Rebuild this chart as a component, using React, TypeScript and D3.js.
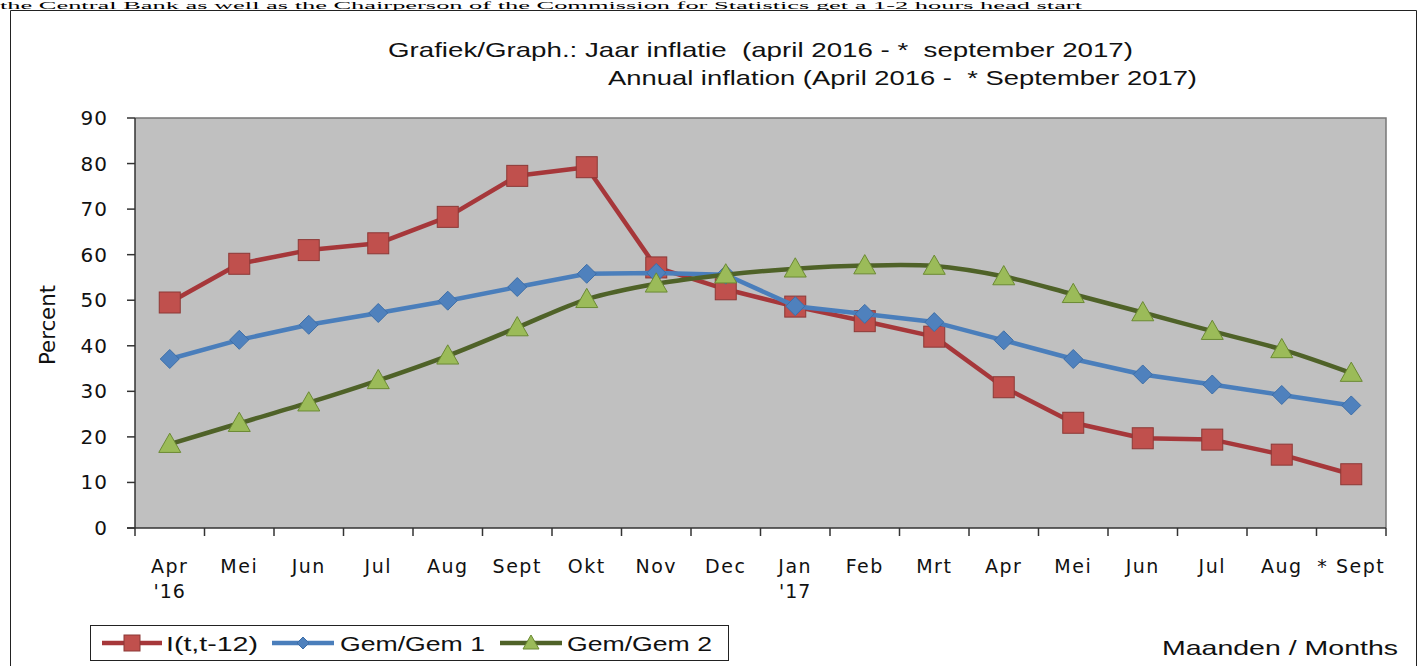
import * as d3 from 'd3';

const months = ['Apr', 'Mei', 'Jun', 'Jul', 'Aug', 'Sept', 'Okt', 'Nov', 'Dec', 'Jan', 'Feb', 'Mrt', 'Apr', 'Mei', 'Jun', 'Jul', 'Aug', '* Sept'];
const yearLabels = ["'16", '', '', '', '', '', '', '', '', "'17", '', '', '', '', '', '', '', ''];
const inflation = [49.5, 58, 61, 62.5, 68.3, 77.3, 79.2, 57.2, 52.4, 48.6, 45.4, 42, 30.9, 23.1, 19.7, 19.4, 16.1, 11.8];
const gem1 = [37.1, 41.3, 44.6, 47.2, 49.9, 52.9, 55.8, 56, 55.6, 48.7, 47, 45.2, 41.2, 37.1, 33.7, 31.5, 29.2, 26.9];
const gem2 = [18.4, 23, 27.5, 32.4, 37.8, 44, 50.2, 53.6, 55.6, 56.9, 57.6, 57.5, 55.2, 51.3, 47.3, 43.2, 39.2, 34];
const yTicks = [0, 10, 20, 30, 40, 50, 60, 70, 80, 90];

const W = 1418, H = 666;
const m = { left: 135, right: 1386, top: 118, bottom: 528 };

const RED = { line: '#a6373a', fill: '#c0504d', stroke: '#8c3836' };
const BLUE = { line: '#4a7ebb', fill: '#4f81bd', stroke: '#3d6ea8' };
const GREEN = { line: '#4f6228', fill: '#9bbb59', stroke: '#6b8a33' };

export default function App() {
    const x = d3.scaleBand<number>().domain(d3.range(months.length)).range([m.left, m.right]);
    const cx = (i: number) => x(i)! + x.bandwidth() / 2;
    const y = d3.scaleLinear().domain([0, 90]).range([m.bottom, m.top]);

    const straight = d3.line<number>().x((_, i) => cx(i)).y(d => y(d));
    // the second average is drawn as a smoothed line in the original
    const smooth = d3.line<number>().x((_, i) => cx(i)).y(d => y(d)).curve(d3.curveCatmullRom.alpha(0.5));

    const square = (px: number, py: number, s = 10, c = RED, k?: string) => (
        <rect key={k} x={px - s} y={py - s} width={s * 2} height={s * 2} fill={c.fill} stroke={c.stroke} strokeWidth={1} />
    );
    const diamond = (px: number, py: number, s = 9, c = BLUE, k?: string) => (
        <path key={k} d={`M${px},${py - s}L${px + s},${py}L${px},${py + s}L${px - s},${py}Z`} fill={c.fill} stroke={c.stroke} strokeWidth={1} />
    );
    const triangle = (px: number, py: number, s = 10, c = GREEN, k?: string) => (
        <path key={k} d={`M${px},${py - s}L${px + s},${py + s * 0.75}L${px - s},${py + s * 0.75}Z`} fill={c.fill} stroke={c.stroke} strokeWidth={1} />
    );

    const bounds = d3.range(months.length + 1).map(i => (i < months.length ? x(i)! : m.right));
    const label = { fontFamily: 'DejaVu Sans, Verdana, sans-serif', fill: '#111' };
    const arial = { fontFamily: 'Liberation Sans, Arial, sans-serif', fill: '#111' };

    return (
        <svg width={W} height={H} style={{ position: 'absolute', left: 0, top: 0, background: '#fff' }}>
            <text x={0} y={9} fontFamily="Liberation Serif, Times New Roman, serif" fontSize={10} textLength={1082} lengthAdjust="spacingAndGlyphs" fill="#000">
                the Central Bank as well as the Chairperson of the Commission for Statistics get a 1-2 hours head start
            </text>
            <path d={`M10.5,${H}V10.5H1416.5V${H}`} fill="none" stroke="#222" strokeWidth={1} />

            <text x={388} y={57} fontSize={21} {...arial} textLength={745} lengthAdjust="spacingAndGlyphs" xmlSpace="preserve">
                Grafiek/Graph.: Jaar inflatie  (april 2016 - *  september 2017)
            </text>
            <text x={608} y={85} fontSize={21} {...arial} textLength={589} lengthAdjust="spacingAndGlyphs" xmlSpace="preserve">
                Annual inflation (April 2016 -  * September 2017)
            </text>

            <rect x={m.left} y={m.top} width={m.right - m.left} height={m.bottom - m.top} fill="#c0c0c0" />
            <path d={`M${m.left},${m.top}H${m.right}V${m.bottom}`} fill="none" stroke="#777" strokeWidth={1.5} />

            {yTicks.map(t => (
                <g key={t}>
                    <line x1={m.left - 8} x2={m.left} y1={y(t)} y2={y(t)} stroke="#333" strokeWidth={1.5} />
                    <text x={108} y={y(t) + 7} textAnchor="end" fontSize={20} letterSpacing={1} {...label}>{t}</text>
                </g>
            ))}
            <line x1={m.left} x2={m.left} y1={m.top} y2={m.bottom} stroke="#333" strokeWidth={1.5} />
            <line x1={m.left - 8} x2={m.right} y1={m.bottom} y2={m.bottom} stroke="#333" strokeWidth={1.5} />
            {bounds.map((b, i) => (
                <line key={i} x1={b} x2={b} y1={m.bottom} y2={m.bottom + 8} stroke="#333" strokeWidth={1.5} />
            ))}
            {months.map((mo, i) => (
                <g key={i}>
                    <text x={cx(i)} y={573} textAnchor="middle" fontSize={19} letterSpacing={1.5} {...label}>{mo}</text>
                    {yearLabels[i] && <text x={cx(i)} y={598} textAnchor="middle" fontSize={19} letterSpacing={1} {...label}>{yearLabels[i]}</text>}
                </g>
            ))}
            <text transform="translate(55,325) rotate(-90)" textAnchor="middle" fontSize={22} {...label} textLength={80} lengthAdjust="spacingAndGlyphs">Percent</text>

            <path d={straight(inflation)!} fill="none" stroke={RED.line} strokeWidth={4.5} strokeLinejoin="round" />
            {inflation.map((v, i) => square(cx(i), y(v), 10.5, RED, `r${i}`))}
            <path d={straight(gem1)!} fill="none" stroke={BLUE.line} strokeWidth={4.5} strokeLinejoin="round" />
            {gem1.map((v, i) => diamond(cx(i), y(v), 9.5, BLUE, `b${i}`))}
            <path d={smooth(gem2)!} fill="none" stroke={GREEN.line} strokeWidth={4.5} strokeLinejoin="round" />
            {gem2.map((v, i) => triangle(cx(i), y(v), 11, GREEN, `g${i}`))}

            <rect x={90.5} y={625.5} width={638} height={35} fill="#fff" stroke="#222" strokeWidth={1} />
            <line x1={102} x2={162} y1={643} y2={643} stroke={RED.line} strokeWidth={4.5} />
            {square(132, 643, 8, RED)}
            <text x={166} y={651} fontSize={21} {...arial} textLength={92} lengthAdjust="spacingAndGlyphs">I(t,t-12)</text>
            <line x1={272} x2={334} y1={643} y2={643} stroke={BLUE.line} strokeWidth={4.5} />
            {diamond(303, 643, 6, BLUE)}
            <text x={340} y={651} fontSize={21} {...arial} textLength={145} lengthAdjust="spacingAndGlyphs">Gem/Gem 1</text>
            <line x1={500} x2={562} y1={643} y2={643} stroke={GREEN.line} strokeWidth={4.5} />
            {triangle(531, 643, 8, GREEN)}
            <text x={567} y={651} fontSize={21} {...arial} textLength={145} lengthAdjust="spacingAndGlyphs">Gem/Gem 2</text>

            <text x={1162} y={655} fontSize={21} {...arial} textLength={236} lengthAdjust="spacingAndGlyphs">Maanden / Months</text>
        </svg>
    );
}
